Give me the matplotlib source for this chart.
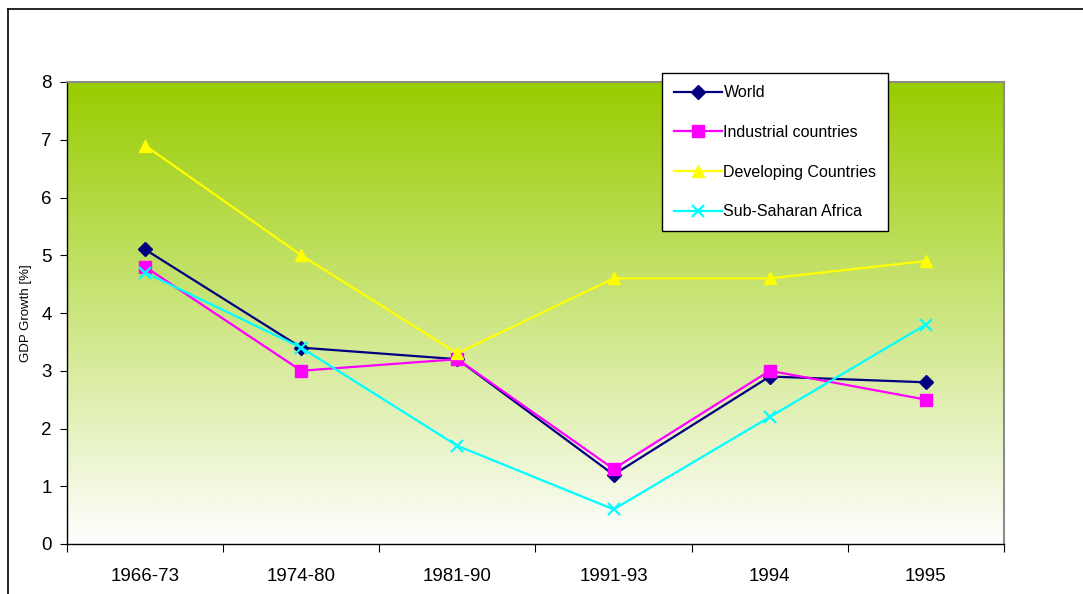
import numpy as np
import matplotlib
matplotlib.use("Agg")
import matplotlib.pyplot as plt
from matplotlib.colors import LinearSegmentedColormap
from matplotlib.lines import Line2D

plt.rcParams["font.family"] = ["Liberation Sans", "DejaVu Sans"]

periods = ["1966-73", "1974-80", "1981-90", "1991-93", "1994", "1995"]
world = [5.1, 3.4, 3.2, 1.2, 2.9, 2.8]
industrial = [4.8, 3.0, 3.2, 1.3, 3.0, 2.5]
developing = [6.9, 5.0, 3.3, 4.6, 4.6, 4.9]
ssa = [4.7, 3.4, 1.7, 0.6, 2.2, 3.8]

fig = plt.figure(figsize=(10.83, 5.94), dpi=100)
# outer chart frame (left + top edges visible)
fig.add_artist(Line2D([8/1083, 8/1083], [0, 1-9/594], color="black", lw=1.2))
fig.add_artist(Line2D([8/1083, 1], [1-9/594, 1-9/594], color="black", lw=1.2))

ax = fig.add_axes([67/1083, 1-544/594, 937/1083, 462/594])
x = np.arange(len(periods))

# green-to-white gradient background
cmap = LinearSegmentedColormap.from_list("g", ["#ffffff", "#99cc00"])
grad = np.linspace(0, 1, 256).reshape(-1, 1)
ax.imshow(grad, aspect="auto", cmap=cmap, origin="lower",
          extent=[-0.5, 5.5, 0, 8], zorder=0)

ax.plot(x, world, color="#000080", lw=1.6, marker="D", ms=7.5, label="World", zorder=3)
ax.plot(x, industrial, color="#ff00ff", lw=1.6, marker="s", ms=8, label="Industrial countries", zorder=4)
ax.plot(x, developing, color="#ffff00", lw=1.6, marker="^", ms=9, label="Developing Countries", zorder=5)
ax.plot(x, ssa, color="#00ffff", lw=1.6, marker="x", ms=8, mew=1.6, label="Sub-Saharan Africa", zorder=6)

ax.set_xlim(-0.5, 5.5)
ax.set_ylim(0, 8)
ax.set_yticks(range(0, 9))
ax.tick_params(axis="y", labelsize=13.5, length=5, direction="out", pad=6)
ax.set_xticks(np.arange(-0.5, 6, 1))
ax.set_xticklabels([])
ax.set_xticks(x, minor=True)
ax.set_xticklabels(periods, minor=True)
ax.tick_params(axis="x", which="major", length=6, direction="out")
ax.tick_params(axis="x", which="minor", length=0, labelsize=13.5, pad=17)
ax.set_ylabel("GDP Growth [%]", fontsize=9.5, labelpad=6.5)

for s in ["top", "right"]:
    ax.spines[s].set_color("#8c8c8c")
    ax.spines[s].set_linewidth(1.5)
for s in ["left", "bottom"]:
    ax.spines[s].set_color("black")
    ax.spines[s].set_linewidth(1)

leg = ax.legend(loc="upper left", bbox_to_anchor=(0.635, 1.019), fontsize=11.5,
                frameon=True, fancybox=False, edgecolor="black", framealpha=1,
                borderpad=0.75, labelspacing=1.55, handlelength=3.0, handletextpad=0.1,
                borderaxespad=0)
leg.get_frame().set_linewidth(1)
leg.set_zorder(10)

fig.savefig("out.png", dpi=100)
